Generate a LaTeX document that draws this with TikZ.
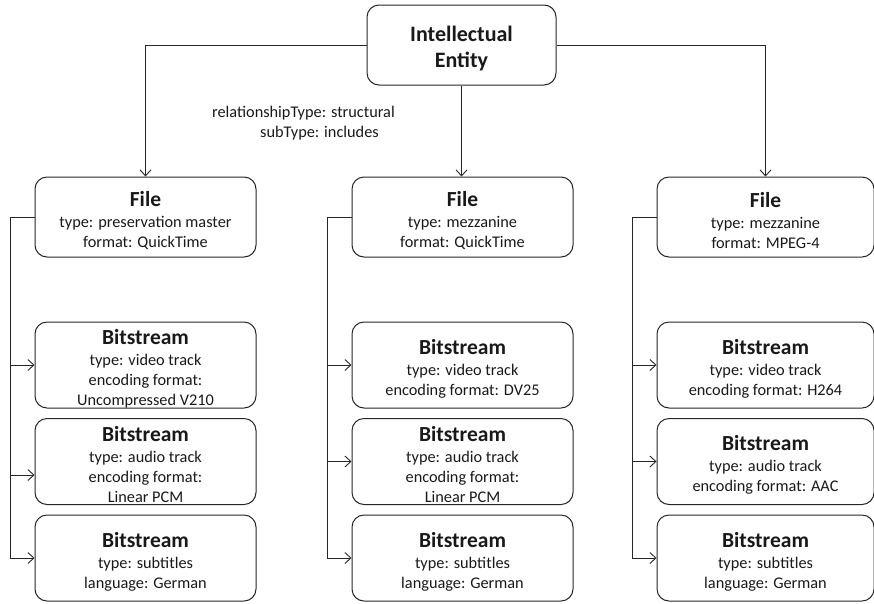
\documentclass[tikz,border=0pt]{standalone}
\usepackage{fontspec}
\setmainfont{Carlito}
\usetikzlibrary{arrows.meta}
% bold heading line of a box; the strut leaves a little more room above it
\newcommand\boxtitle[1]{{\bfseries\fontsize{21.5}{21}\selectfont\rule{0pt}{22pt}#1}\\[1pt]}
\begin{document}
\begin{tikzpicture}[x=1pt,y=-1pt,
  box/.style={draw=black!85, line width=1pt, rounded corners=12pt, align=center,
    inner sep=0pt, text=black!90, font=\fontsize{16.3}{20}\selectfont},
  entitybox/.style={box, minimum width=189pt, minimum height=80pt,
    font=\bfseries\fontsize{22}{26}\selectfont},
  filebox/.style={box, minimum height=80pt},
  bitbox/.style={box, minimum height=86pt},
  link/.style={draw=black!85, line width=0.9pt, -{Straight Barb[length=6pt,width=11pt]}},
  note/.style={align=right, inner sep=0pt, text=black!90, font=\fontsize{16.3}{20}\selectfont}
]
\useasboundingbox (0,0) rectangle (874,603);

% top entity
\node[entitybox] (ie) at (461.5,45) {\rule{0pt}{22pt}Intellectual\\Entity};

% files
\node[filebox, minimum width=221pt] (f1) at (145.5,217)
  {\boxtitle{File}type: preservation master\\format: QuickTime};
\node[filebox, minimum width=221pt] (f2) at (462.5,217)
  {\boxtitle{File}type: mezzanine\\format: QuickTime};
\node[filebox, minimum width=217pt] (f3) at (765.5,217)
  {\boxtitle{File}type: mezzanine\\format: MPEG-4};

% bitstreams, column 1
\node[bitbox, minimum width=221pt] (b11) at (145.5,365)
  {\boxtitle{Bitstream}type: video track\\encoding format:\\Uncompressed V210};
\node[bitbox, minimum width=221pt] (b12) at (145.5,461.5)
  {\boxtitle{Bitstream}type: audio track\\encoding format:\\Linear PCM};
\node[bitbox, minimum width=221pt] (b13) at (145.5,558)
  {\boxtitle{Bitstream}type: subtitles\\language: German};

% bitstreams, column 2
\node[bitbox, minimum width=221pt] (b21) at (462.5,365)
  {\boxtitle{Bitstream}type: video track\\encoding format: DV25};
\node[bitbox, minimum width=221pt] (b22) at (462.5,461.5)
  {\boxtitle{Bitstream}type: audio track\\encoding format:\\Linear PCM};
\node[bitbox, minimum width=221pt] (b23) at (462.5,558)
  {\boxtitle{Bitstream}type: subtitles\\language: German};

% bitstreams, column 3
\node[bitbox, minimum width=217pt] (b31) at (765.5,365)
  {\boxtitle{Bitstream}type: video track\\encoding format: H264};
\node[bitbox, minimum width=217pt] (b32) at (765.5,461.5)
  {\boxtitle{Bitstream}type: audio track\\encoding format: AAC};
\node[bitbox, minimum width=217pt] (b33) at (765.5,558)
  {\boxtitle{Bitstream}type: subtitles\\language: German};

% relationship label
\node[note, anchor=east] (rel) at (395,123)
  {relationshipType: structural\\subType: includes\hspace*{16pt}};

% entity to files
\draw[link] (ie.west) -| (f1.north);
\draw[link] (ie.east) -| (f3.north);
\draw[link] (ie.south) -- (ie.south |- f2.north);

% file to bitstreams
\coordinate (c1) at (10,0);
\coordinate (c2) at (327,0);
\coordinate (c3) at (632,0);

\draw[link] (f1.west) -- (f1.west -| c1) |- (b13.west);
\draw[link] (b11.west -| c1) -- (b11.west);
\draw[link] ([yshift=-13.5pt]b12.west -| c1) -- ([yshift=-13.5pt]b12.west);

\draw[link] (f2.west) -- (f2.west -| c2) |- (b23.west);
\draw[link] (b21.west -| c2) -- (b21.west);
\draw[link] (b22.west -| c2) -- (b22.west);

\draw[link] (f3.west) -- (f3.west -| c3) |- (b33.west);
\draw[link] (b31.west -| c3) -- (b31.west);
\draw[link] (b32.west -| c3) -- (b32.west);
\end{tikzpicture}
\end{document}
